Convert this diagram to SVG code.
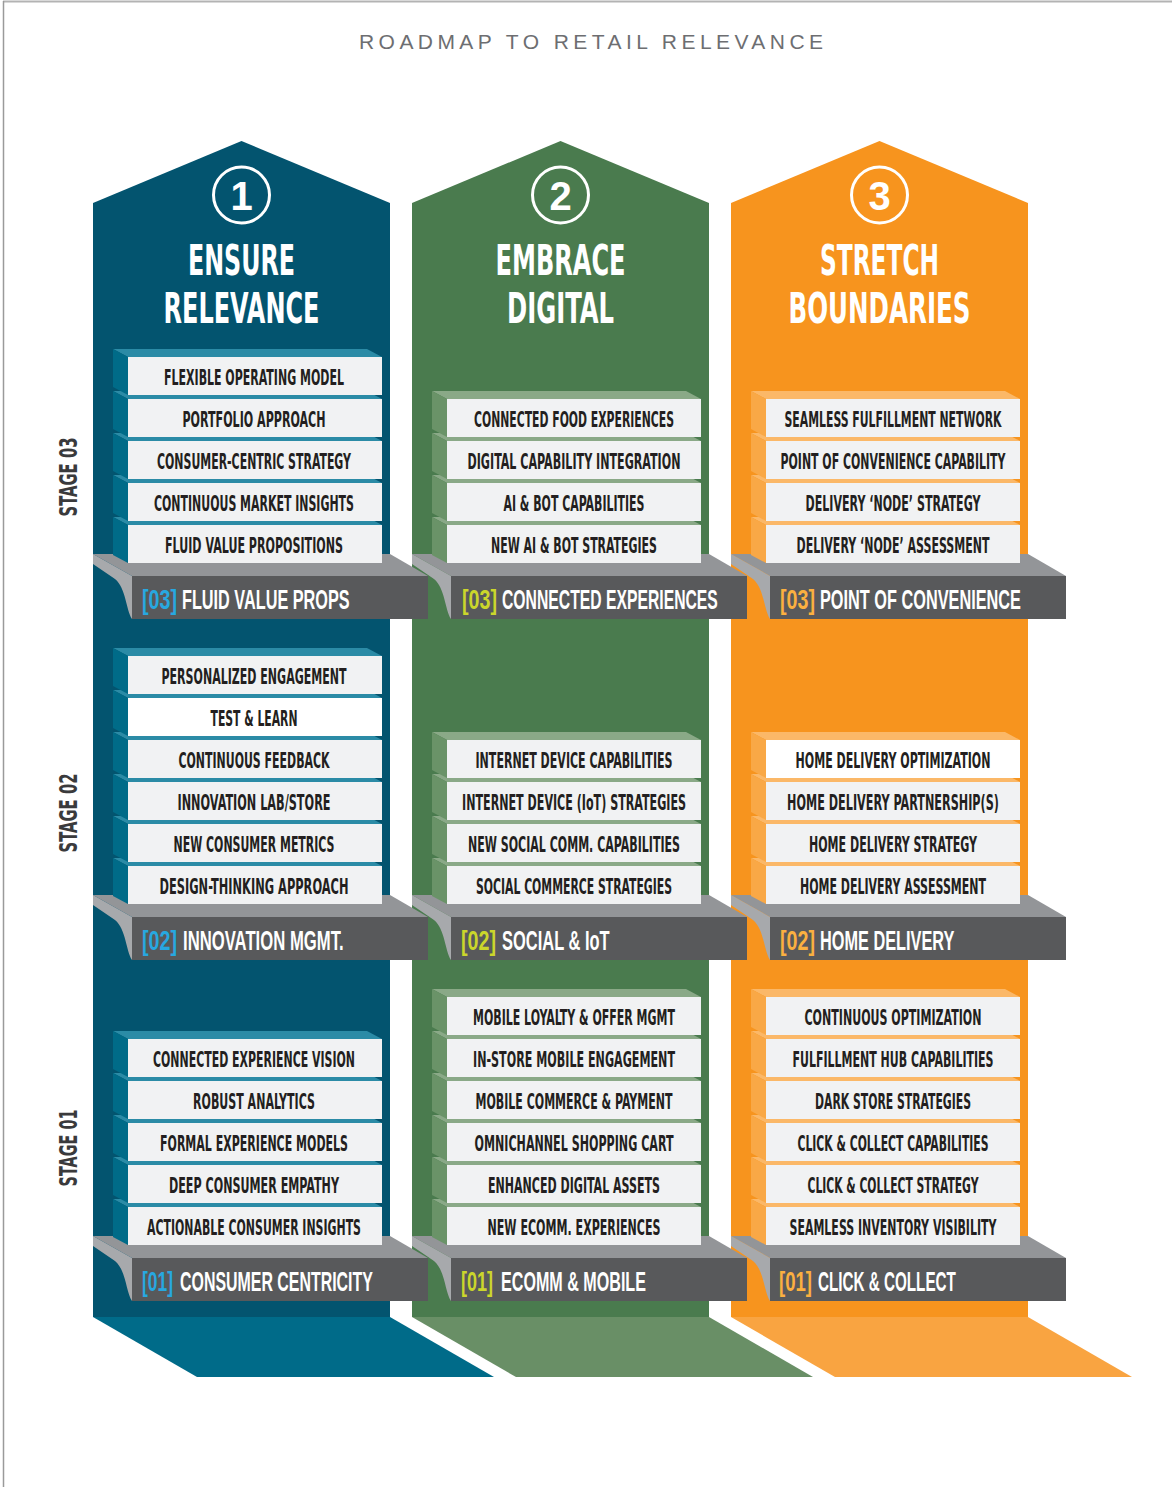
<svg xmlns="http://www.w3.org/2000/svg" xmlns:xlink="http://www.w3.org/1999/xlink" width="1172" height="1487" viewBox="0 0 1172 1487">
<style>
.bt{font-family:"Liberation Sans Narrow","DejaVu Sans Condensed","Liberation Sans",sans-serif;font-weight:bold;font-size:20.5px;fill:#231f20;text-anchor:middle}
.st{font-family:"Liberation Sans",Arial,sans-serif;font-weight:bold;font-size:27px;fill:#ffffff}
.ttl{font-family:"Liberation Sans Narrow","DejaVu Sans Condensed","Liberation Sans",sans-serif;font-weight:bold;font-size:42px;fill:#ffffff;text-anchor:middle}
.num{font-family:"Liberation Sans","DejaVu Sans",sans-serif;font-weight:bold;font-size:40px;fill:#ffffff;text-anchor:middle}
.stg{font-family:"Liberation Sans Narrow","DejaVu Sans Condensed","Liberation Sans",sans-serif;font-weight:bold;font-size:25px;fill:#3a3a3c;text-anchor:middle}
.head{font-family:"Liberation Sans","DejaVu Sans",sans-serif;font-size:21px;fill:#6d6e71;text-anchor:middle}
.cb{fill:#27a8e0}.cg{fill:#cbd62b}.co{fill:#fbb040}
.front{fill:#f1f2f3}
.hl{fill:#ffffff}
</style>
<defs>
<g id="blk-b"><polygon points="-15,-8 239,-8 254,0 0,0" fill="#2b8ba6"/><polygon points="-15,-8 0,0 0,38 -15,30" fill="#006b88"/><rect class="front" x="0" y="0" width="254" height="38"/></g>
<g id="blk-g"><polygon points="-15,-8 239,-8 254,0 0,0" fill="#8aa987"/><polygon points="-15,-8 0,0 0,38 -15,30" fill="#6a9368"/><rect class="front" x="0" y="0" width="254" height="38"/></g>
<g id="blk-o"><polygon points="-15,-8 239,-8 254,0 0,0" fill="#fbb868"/><polygon points="-15,-8 0,0 0,38 -15,30" fill="#f9a846"/><rect class="front" x="0" y="0" width="254" height="38"/></g>
<g id="shelf"><polygon points="0,0 297,0 335,22 39,22" fill="#939598"/><path d="M0,0 L39,22 L39,65 C33,56 33,34 22,25 L0,10 Z" fill="#a7a9ac"/><rect x="39" y="22" width="296" height="43" fill="#58595b"/></g>
</defs>

<rect x="0" y="0" width="1172" height="1487" fill="#ffffff"/>
<line x1="3" y1="1.5" x2="1172" y2="1.5" stroke="#b3b3b3" stroke-width="2"/>
<line x1="3.5" y1="1" x2="3.5" y2="1487" stroke="#9a9a9a" stroke-width="1.5"/>

<text class="head" x="591" y="49" textLength="464" lengthAdjust="spacing">ROADMAP TO RETAIL RELEVANCE</text>

<g id="stage-labels">
<text class="stg" transform="translate(77,477) rotate(-90)" textLength="79" lengthAdjust="spacingAndGlyphs">STAGE 03</text>
<text class="stg" transform="translate(77,813) rotate(-90)" textLength="79" lengthAdjust="spacingAndGlyphs">STAGE 02</text>
<text class="stg" transform="translate(77,1148) rotate(-90)" textLength="77" lengthAdjust="spacingAndGlyphs">STAGE 01</text>
</g>

<!-- columns -->
<g id="col-1">
<polygon points="93,1317 390,1317 494,1377 197,1377" fill="#006b89"/>
<polygon points="93,203 241.5,141 390,203 390,1317 93,1317" fill="#03546f"/>
<circle cx="241.5" cy="195" r="28" fill="none" stroke="#ffffff" stroke-width="3"/>
<text class="num" x="241.5" y="210">1</text>
<text class="ttl" x="241.5" y="275" textLength="107" lengthAdjust="spacingAndGlyphs">ENSURE</text>
<text class="ttl" x="241.5" y="323" textLength="156" lengthAdjust="spacingAndGlyphs">RELEVANCE</text>
</g>
<g id="col-2">
<polygon points="412,1317 709,1317 813,1377 516,1377" fill="#698f66"/>
<polygon points="412,203 560.5,141 709,203 709,1317 412,1317" fill="#4a7b4e"/>
<circle cx="560.5" cy="195" r="28" fill="none" stroke="#ffffff" stroke-width="3"/>
<text class="num" x="560.5" y="210">2</text>
<text class="ttl" x="560.5" y="275" textLength="130" lengthAdjust="spacingAndGlyphs">EMBRACE</text>
<text class="ttl" x="560.5" y="323" textLength="107" lengthAdjust="spacingAndGlyphs">DIGITAL</text>
</g>
<g id="col-3">
<polygon points="731,1317 1028,1317 1132,1377 835,1377" fill="#f9a441"/>
<polygon points="731,203 879.5,141 1028,203 1028,1317 731,1317" fill="#f7941e"/>
<circle cx="879.5" cy="195" r="28" fill="none" stroke="#ffffff" stroke-width="3"/>
<text class="num" x="879.5" y="210">3</text>
<text class="ttl" x="879.5" y="275" textLength="119" lengthAdjust="spacingAndGlyphs">STRETCH</text>
<text class="ttl" x="879.5" y="323" textLength="182" lengthAdjust="spacingAndGlyphs">BOUNDARIES</text>
</g>

<!-- column 3 stacks -->
<g id="c3-s3">
<g id="c3-s3-shelf"><use href="#shelf" x="731" y="554"/><text class="st co" transform="matrix(0.729 0 0 1 780 609)">[03]</text><text class="st" transform="matrix(0.6036 0 0 1 820 609)">POINT OF CONVENIENCE</text></g>
<g id="c3-s3-b4"><use href="#blk-o" x="766" y="525"/><text class="bt" x="893" y="553" textLength="193" lengthAdjust="spacingAndGlyphs">DELIVERY ‘NODE’ ASSESSMENT</text></g>
<g id="c3-s3-b3"><use href="#blk-o" x="766" y="483"/><text class="bt" x="893" y="511" textLength="175" lengthAdjust="spacingAndGlyphs">DELIVERY ‘NODE’ STRATEGY</text></g>
<g id="c3-s3-b2"><use href="#blk-o" x="766" y="441"/><text class="bt" transform="matrix(0.6 0 0 1 893 469)" textLength="375" lengthAdjust="spacingAndGlyphs">POINT OF CONVENIENCE CAPABILITY</text></g>
<g id="c3-s3-b1"><use href="#blk-o" x="766" y="399"/><text class="bt" x="893" y="427" textLength="217" lengthAdjust="spacingAndGlyphs">SEAMLESS FULFILLMENT NETWORK</text></g>
</g>
<g id="c3-s2">
<g id="c3-s2-shelf"><use href="#shelf" x="731" y="895"/><text class="st co" transform="matrix(0.729 0 0 1 780 950)">[02]</text><text class="st" transform="matrix(0.604 0 0 1 820 950)">HOME DELIVERY</text></g>
<g id="c3-s2-b4"><use href="#blk-o" x="766" y="866"/><text class="bt" x="893" y="894" textLength="186" lengthAdjust="spacingAndGlyphs">HOME DELIVERY ASSESSMENT</text></g>
<g id="c3-s2-b3"><use href="#blk-o" x="766" y="824"/><text class="bt" x="893" y="852" textLength="168" lengthAdjust="spacingAndGlyphs">HOME DELIVERY STRATEGY</text></g>
<g id="c3-s2-b2"><use href="#blk-o" x="766" y="782"/><text class="bt" transform="matrix(0.6 0 0 1 893 810)" textLength="353" lengthAdjust="spacingAndGlyphs">HOME DELIVERY PARTNERSHIP(S)</text></g>
<g id="c3-s2-b1"><use href="#blk-o" x="766" y="740"/><rect class="hl" x="766" y="740" width="254" height="38"/><text class="bt" x="893" y="768" textLength="195" lengthAdjust="spacingAndGlyphs">HOME DELIVERY OPTIMIZATION</text></g>
</g>
<g id="c3-s1">
<g id="c3-s1-shelf"><use href="#shelf" x="731" y="1236"/><text class="st co" transform="matrix(0.688 0 0 1 779 1291)">[01]</text><text class="st" transform="matrix(0.5644 0 0 1 818 1291)">CLICK &amp; COLLECT</text></g>
<g id="c3-s1-b6"><use href="#blk-o" x="766" y="1207"/><text class="bt" x="893" y="1235" textLength="207" lengthAdjust="spacingAndGlyphs">SEAMLESS INVENTORY VISIBILITY</text></g>
<g id="c3-s1-b5"><use href="#blk-o" x="766" y="1165"/><text class="bt" x="893" y="1193" textLength="171" lengthAdjust="spacingAndGlyphs">CLICK &amp; COLLECT STRATEGY</text></g>
<g id="c3-s1-b4"><use href="#blk-o" x="766" y="1123"/><text class="bt" x="893" y="1151" textLength="191" lengthAdjust="spacingAndGlyphs">CLICK &amp; COLLECT CAPABILITIES</text></g>
<g id="c3-s1-b3"><use href="#blk-o" x="766" y="1081"/><text class="bt" x="893" y="1109" textLength="156" lengthAdjust="spacingAndGlyphs">DARK STORE STRATEGIES</text></g>
<g id="c3-s1-b2"><use href="#blk-o" x="766" y="1039"/><text class="bt" x="893" y="1067" textLength="201" lengthAdjust="spacingAndGlyphs">FULFILLMENT HUB CAPABILITIES</text></g>
<g id="c3-s1-b1"><use href="#blk-o" x="766" y="997"/><text class="bt" x="893" y="1025" textLength="177" lengthAdjust="spacingAndGlyphs">CONTINUOUS OPTIMIZATION</text></g>
</g>

<!-- column 2 stacks -->
<g id="c2-s3">
<g id="c2-s3-shelf"><use href="#shelf" x="412" y="554"/><text class="st cg" transform="matrix(0.729 0 0 1 462 609)">[03]</text><text class="st" transform="matrix(0.583 0 0 1 502 609)">CONNECTED EXPERIENCES</text></g>
<g id="c2-s3-b4"><use href="#blk-g" x="447" y="525"/><text class="bt" x="574" y="553" textLength="166" lengthAdjust="spacingAndGlyphs">NEW AI &amp; BOT STRATEGIES</text></g>
<g id="c2-s3-b3"><use href="#blk-g" x="447" y="483"/><text class="bt" x="574" y="511" textLength="141" lengthAdjust="spacingAndGlyphs">AI &amp; BOT CAPABILITIES</text></g>
<g id="c2-s3-b2"><use href="#blk-g" x="447" y="441"/><text class="bt" x="574" y="469" textLength="213" lengthAdjust="spacingAndGlyphs">DIGITAL CAPABILITY INTEGRATION</text></g>
<g id="c2-s3-b1"><use href="#blk-g" x="447" y="399"/><text class="bt" x="574" y="427" textLength="200" lengthAdjust="spacingAndGlyphs">CONNECTED FOOD EXPERIENCES</text></g>
</g>
<g id="c2-s2">
<g id="c2-s2-shelf"><use href="#shelf" x="412" y="895"/><text class="st cg" transform="matrix(0.729 0 0 1 461 950)">[02]</text><text class="st" transform="matrix(0.61 0 0 1 502 950)">SOCIAL &amp; IoT</text></g>
<g id="c2-s2-b4"><use href="#blk-g" x="447" y="866"/><text class="bt" x="574" y="894" textLength="196" lengthAdjust="spacingAndGlyphs">SOCIAL COMMERCE STRATEGIES</text></g>
<g id="c2-s2-b3"><use href="#blk-g" x="447" y="824"/><text class="bt" x="574" y="852" textLength="212" lengthAdjust="spacingAndGlyphs">NEW SOCIAL COMM. CAPABILITIES</text></g>
<g id="c2-s2-b2"><use href="#blk-g" x="447" y="782"/><text class="bt" x="574" y="810" textLength="224" lengthAdjust="spacingAndGlyphs">INTERNET DEVICE (IoT) STRATEGIES</text></g>
<g id="c2-s2-b1"><use href="#blk-g" x="447" y="740"/><text class="bt" x="574" y="768" textLength="197" lengthAdjust="spacingAndGlyphs">INTERNET DEVICE CAPABILITIES</text></g>
</g>
<g id="c2-s1">
<g id="c2-s1-shelf"><use href="#shelf" x="412" y="1236"/><text class="st cg" transform="matrix(0.667 0 0 1 461 1291)">[01]</text><text class="st" transform="matrix(0.597 0 0 1 501 1291)">ECOMM &amp; MOBILE</text></g>
<g id="c2-s1-b6"><use href="#blk-g" x="447" y="1207"/><text class="bt" x="574" y="1235" textLength="173" lengthAdjust="spacingAndGlyphs">NEW ECOMM. EXPERIENCES</text></g>
<g id="c2-s1-b5"><use href="#blk-g" x="447" y="1165"/><text class="bt" x="574" y="1193" textLength="172" lengthAdjust="spacingAndGlyphs">ENHANCED DIGITAL ASSETS</text></g>
<g id="c2-s1-b4"><use href="#blk-g" x="447" y="1123"/><text class="bt" x="574" y="1151" textLength="199" lengthAdjust="spacingAndGlyphs">OMNICHANNEL SHOPPING CART</text></g>
<g id="c2-s1-b3"><use href="#blk-g" x="447" y="1081"/><text class="bt" x="574" y="1109" textLength="197" lengthAdjust="spacingAndGlyphs">MOBILE COMMERCE &amp; PAYMENT</text></g>
<g id="c2-s1-b2"><use href="#blk-g" x="447" y="1039"/><text class="bt" x="574" y="1067" textLength="202" lengthAdjust="spacingAndGlyphs">IN-STORE MOBILE ENGAGEMENT</text></g>
<g id="c2-s1-b1"><use href="#blk-g" x="447" y="997"/><text class="bt" x="574" y="1025" textLength="202" lengthAdjust="spacingAndGlyphs">MOBILE LOYALTY &amp; OFFER MGMT</text></g>
</g>

<!-- column 1 stacks -->
<g id="c1-s3">
<g id="c1-s3-shelf"><use href="#shelf" x="93" y="554"/><text class="st cb" transform="matrix(0.729 0 0 1 142 609)">[03]</text><text class="st" transform="matrix(0.6025 0 0 1 182 609)">FLUID VALUE PROPS</text></g>
<g id="c1-s3-b5"><use href="#blk-b" x="128" y="525"/><text class="bt" x="254" y="553" textLength="178" lengthAdjust="spacingAndGlyphs">FLUID VALUE PROPOSITIONS</text></g>
<g id="c1-s3-b4"><use href="#blk-b" x="128" y="483"/><text class="bt" x="254" y="511" textLength="200" lengthAdjust="spacingAndGlyphs">CONTINUOUS MARKET INSIGHTS</text></g>
<g id="c1-s3-b3"><use href="#blk-b" x="128" y="441"/><text class="bt" x="254" y="469" textLength="194" lengthAdjust="spacingAndGlyphs">CONSUMER-CENTRIC STRATEGY</text></g>
<g id="c1-s3-b2"><use href="#blk-b" x="128" y="399"/><text class="bt" x="254" y="427" textLength="143" lengthAdjust="spacingAndGlyphs">PORTFOLIO APPROACH</text></g>
<g id="c1-s3-b1"><use href="#blk-b" x="128" y="357"/><text class="bt" x="254" y="385" textLength="180" lengthAdjust="spacingAndGlyphs">FLEXIBLE OPERATING MODEL</text></g>
</g>
<g id="c1-s2">
<g id="c1-s2-shelf"><use href="#shelf" x="93" y="895"/><text class="st cb" transform="matrix(0.729 0 0 1 142 950)">[02]</text><text class="st" transform="matrix(0.618 0 0 1 183 950)">INNOVATION MGMT.</text></g>
<g id="c1-s2-b6"><use href="#blk-b" x="128" y="866"/><text class="bt" x="254" y="894" textLength="189" lengthAdjust="spacingAndGlyphs">DESIGN-THINKING APPROACH</text></g>
<g id="c1-s2-b5"><use href="#blk-b" x="128" y="824"/><text class="bt" x="254" y="852" textLength="161" lengthAdjust="spacingAndGlyphs">NEW CONSUMER METRICS</text></g>
<g id="c1-s2-b4"><use href="#blk-b" x="128" y="782"/><text class="bt" x="254" y="810" textLength="153" lengthAdjust="spacingAndGlyphs">INNOVATION LAB/STORE</text></g>
<g id="c1-s2-b3"><use href="#blk-b" x="128" y="740"/><text class="bt" x="254" y="768" textLength="151" lengthAdjust="spacingAndGlyphs">CONTINUOUS FEEDBACK</text></g>
<g id="c1-s2-b2"><use href="#blk-b" x="128" y="698"/><rect class="hl" x="128" y="698" width="254" height="38"/><text class="bt" x="254" y="726" textLength="87" lengthAdjust="spacingAndGlyphs">TEST &amp; LEARN</text></g>
<g id="c1-s2-b1"><use href="#blk-b" x="128" y="656"/><text class="bt" x="254" y="684" textLength="185" lengthAdjust="spacingAndGlyphs">PERSONALIZED ENGAGEMENT</text></g>
</g>
<g id="c1-s1">
<g id="c1-s1-shelf"><use href="#shelf" x="93" y="1236"/><text class="st cb" transform="matrix(0.646 0 0 1 142 1291)">[01]</text><text class="st" transform="matrix(0.59 0 0 1 180 1291)">CONSUMER CENTRICITY</text></g>
<g id="c1-s1-b5"><use href="#blk-b" x="128" y="1207"/><text class="bt" x="254" y="1235" textLength="214" lengthAdjust="spacingAndGlyphs">ACTIONABLE CONSUMER INSIGHTS</text></g>
<g id="c1-s1-b4"><use href="#blk-b" x="128" y="1165"/><text class="bt" x="254" y="1193" textLength="170" lengthAdjust="spacingAndGlyphs">DEEP CONSUMER EMPATHY</text></g>
<g id="c1-s1-b3"><use href="#blk-b" x="128" y="1123"/><text class="bt" x="254" y="1151" textLength="188" lengthAdjust="spacingAndGlyphs">FORMAL EXPERIENCE MODELS</text></g>
<g id="c1-s1-b2"><use href="#blk-b" x="128" y="1081"/><text class="bt" x="254" y="1109" textLength="122" lengthAdjust="spacingAndGlyphs">ROBUST ANALYTICS</text></g>
<g id="c1-s1-b1"><use href="#blk-b" x="128" y="1039"/><text class="bt" x="254" y="1067" textLength="202" lengthAdjust="spacingAndGlyphs">CONNECTED EXPERIENCE VISION</text></g>
</g>

<g id="connectors"></g>
</svg>
